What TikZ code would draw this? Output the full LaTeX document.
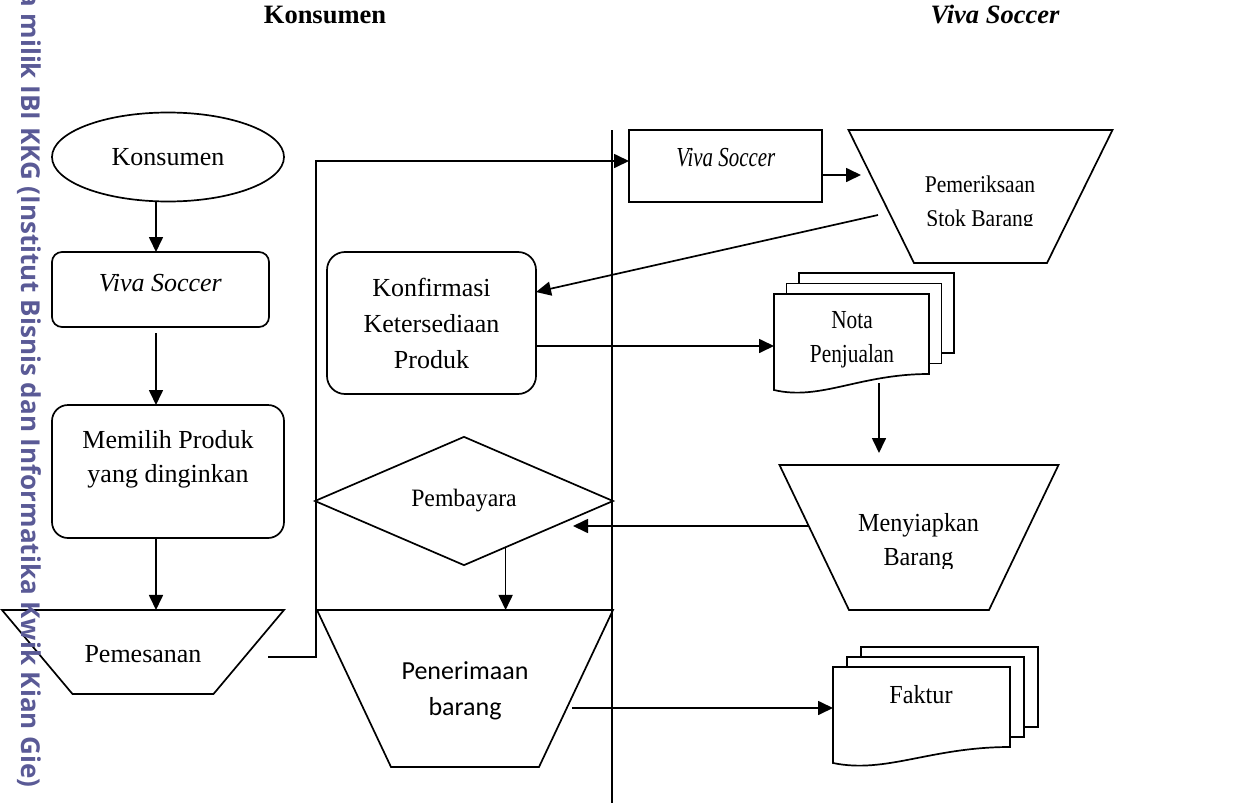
\documentclass[tikz,border=0pt]{standalone}
\usepackage{fontspec}
\setmainfont{Liberation Serif}
\newfontfamily\carlito{Carlito}
\newfontfamily\wmfont{Open Sans}
\newfontfamily\stA[FakeStretch=0.76]{Liberation Serif}
\newfontfamily\stB[FakeStretch=0.9]{Liberation Serif}
\newfontfamily\stC[FakeStretch=0.82]{Liberation Serif}
\newfontfamily\stD[FakeStretch=0.93]{Liberation Serif}
\newfontfamily\stE[FakeStretch=0.95]{Liberation Serif}
\usetikzlibrary{shapes.geometric,arrows.meta,calc}
\definecolor{wmc}{RGB}{90,90,150}
\newcommand\myfs[2]{\fontsize{#1}{#2}\selectfont}
% #1 x0, #2 y0 (top-left of front sheet), #3 width, #4 height, #5 dx, #6 dy
\newcommand\docstack[6]{%
  \draw[ln, fill=white] ({#1+2*(#5)},{#2+2*(#6)}) rectangle ++(#3,#4);
  \draw[ln, fill=white] ({#1+(#5)},{#2+(#6)}) rectangle ++(#3,#4);
  \draw[ln, fill=white] (#1,#2) -- ++(#3,0) -- ++(0,#4)
     .. controls ({#1+0.55*(#3)},{#2+#4}) and ({#1+0.3*(#3)},{#2+#4+27}) .. ({#1},{#2+#4+16}) -- cycle;
}
\begin{document}
\begin{tikzpicture}[x=1pt,y=-1pt,
  ln/.style={line width=1.7pt},
  shp/.style={draw, line width=1.7pt, outer sep=0pt, inner sep=0pt},
  arr/.style={line width=1.7pt, -{Triangle[length=15pt,width=14pt]}},
  txt/.style={inner sep=0pt, align=center},
  trap/.style={shp, trapezium, shape border rotate=180},
  ghost/.style={inner sep=0pt, outer sep=0pt}]
\useasboundingbox (0,0) rectangle (1248,803);

% titles
\node[txt, font=\myfs{26.5}{30}\bfseries] (tK) at (325,15) {Konsumen};
\node[txt, font=\myfs{26.5}{30}\bfseries\itshape] (tV) at (995,15) {Viva Soccer};

% lane divider
\coordinate (laneTop) at (612,130);
\coordinate (laneBot) at (612,803);
\draw[ln] (laneTop) -- (laneBot);

% left lane
\node[shp, ellipse, minimum width=232pt, minimum height=89pt, font=\myfs{26}{30}] (ell) at (168,157) {Konsumen};

\node[shp, rounded corners=10pt, minimum width=217pt, minimum height=75pt] (box1) at (160.5,289.5) {};
\node[txt, font=\myfs{26}{30}\itshape] (box1t) at (160.3,283.5) {Viva Soccer};

\node[shp, rounded corners=16pt, minimum width=232pt, minimum height=133pt] (mem) at (168,471.5) {};
\node[txt, font=\myfs{26}{34}] (memt) at (168,459) {Memilih Produk\\yang dinginkan};

\node[trap, inner xsep=70.5pt, inner ysep=42pt, trapezium angle=50] (pes) at (143,652) {};
\node[txt, font=\myfs{26}{30}] (pest) at (143,654) {Pemesanan};

\node[shp, rounded corners=18pt, minimum width=209pt, minimum height=142pt, align=center, font=\myfs{26}{36}] (konf) at (431.5,323) {Konfirmasi\\Ketersediaan\\Produk};

\node[shp, diamond, minimum width=298pt, minimum height=116pt, font=\stE\myfs{25}{30}] (dia) at (464,501) {Pembayara};

\node[trap, inner xsep=74pt, inner ysep=78.5pt, trapezium angle=64.76] (pen) at (465,688.5) {};
\node[txt, font=\carlito\myfs{26}{36}] (pent) at (465,690.5) {Penerimaan\\barang};

% right lane
\node[shp, minimum width=193pt, minimum height=72pt] (vs2) at (725.5,166) {};
\node[txt, font=\stA\myfs{27.5}{30}\itshape] (vs2t) at (725.8,157.5) {Viva Soccer};

\node[trap, inner xsep=66.5pt, inner ysep=66.5pt, trapezium angle=63.78] (pemer) at (980.5,196.5) {};
\begin{scope}
  \clip (850,140) rectangle (1110,225);
  \node[txt, font=\stB\myfs{24}{34}] (pemert) at (980,203.3) {Pemeriksaan\\Stok Barang};
\end{scope}

\docstack{774}{294}{155}{80}{12.5}{-10.5}
\node[ghost, minimum width=155pt, minimum height=80pt] (nota) at (851.5,334) {};
\node[txt, font=\stC\myfs{26}{34}] (notat) at (852,340) {Nota\\Penjualan};

\node[trap, inner xsep=70pt, inner ysep=72.5pt, trapezium angle=64.39] (men) at (919,537.5) {};
\begin{scope}
  \clip (780,470) rectangle (1060,568);
  \node[txt, font=\stD\myfs{26}{34}] (ment) at (918.5,542.4) {Menyiapkan\\Barang};
\end{scope}

\docstack{833}{667}{177}{80}{14}{-10}
\node[ghost, minimum width=177pt, minimum height=80pt] (fak) at (921.5,707) {};
\node[txt, font=\stD\myfs{26}{30}] (fakt) at (921,694.7) {Faktur};

% connector helper points
\coordinate (colL) at (156,0);
\coordinate (b1out) at ([yshift=-6pt]box1.south);
\coordinate (pesOut) at (268,657);
\coordinate (bend) at (316,161);
\coordinate (c5a) at ([yshift=-9pt]vs2.east);
\coordinate (pemIn) at (861,175);
\coordinate (pemOut) at (878,215);
\coordinate (konfIn) at ([yshift=31pt]konf.east);
\coordinate (konfOut) at ([yshift=-23pt]konf.east);
\coordinate (notaOut) at (879,383);
\coordinate (menIn) at (879,453);
\coordinate (menOut) at (808,526);
\coordinate (diaIn) at (573,526);
\coordinate (penOut) at (572,708);

% connectors
\draw[arr] (ell.south -| colL) -- (box1.north -| colL);
\draw[arr] (b1out -| colL) -- (mem.north -| colL);
\draw[arr] (mem.south -| colL) -- (pes.north -| colL);
\draw[arr] (pesOut) -| (bend) -- (bend -| vs2.west);
\draw[arr] (c5a) -- (pemIn);
\draw[arr] (pemOut) -- (konfIn);
\draw[arr] (konfOut) -- (konfOut -| nota.west);
\draw[arr] (notaOut) -- (menIn);
\draw[arr] (menOut) -- (diaIn);
\draw[arr] (dia.-48) -- (dia.-48 |- pen.north);
\draw[arr] (penOut) -- (penOut -| fak.west);

% watermark
\node[font=\wmfont\bfseries\myfs{26}{30}, text=wmc, rotate=-90, anchor=base west, inner sep=0pt] (wm) at (21,-9) {a milik IBI KKG (Institut Bisnis dan Informatika Kwik Kian Gie)};
\end{tikzpicture}
\end{document}
